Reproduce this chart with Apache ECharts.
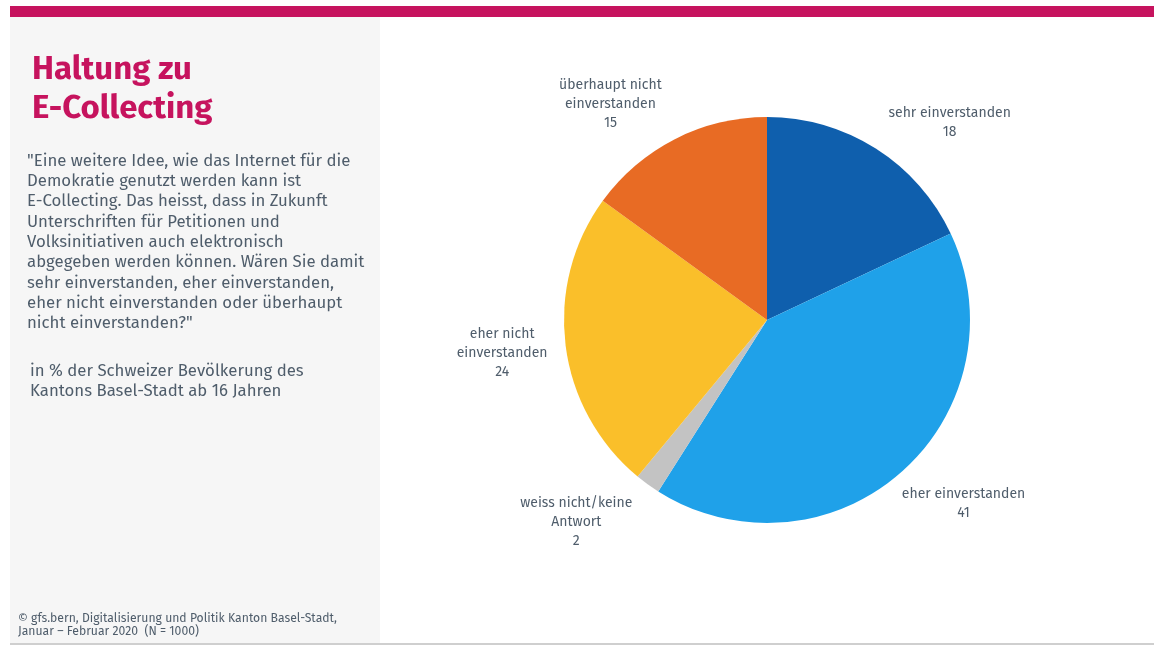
<!DOCTYPE html>
<html>
<head>
<meta charset="utf-8">
<script src="https://cdn.jsdelivr.net/npm/echarts@6/dist/echarts.min.js"></script>
<style>
html,body{margin:0;padding:0;background:#fff;}
#chart{width:1154px;height:646px;}
</style>
</head>
<body>
<div id="chart"></div>
<script>
// ---- data ----
const categories = [
  'sehr einverstanden',
  'eher einverstanden',
  'weiss nicht/keine\nAntwort',
  'eher nicht\neinverstanden',
  'überhaupt nicht\neinverstanden'
];
const values = [18, 41, 2, 24, 15];
const sliceColors = ['#0f5fad', '#1fa1e9', '#c3c3c3', '#fabf2a', '#e86b24'];

const titleLines = ['Haltung zu', 'E-Collecting'];
const questionText = '"Eine weitere Idee, wie das Internet für die\nDemokratie genutzt werden kann ist\nE-Collecting. Das heisst, dass in Zukunft\nUnterschriften für Petitionen und\nVolksinitiativen auch elektronisch\nabgegeben werden können. Wären Sie damit\nsehr einverstanden, eher einverstanden,\neher nicht einverstanden oder überhaupt\nnicht einverstanden?"';
const baseText = 'in % der Schweizer Bevölkerung des\nKantons Basel-Stadt ab 16 Jahren';
const sourceText = '© gfs.bern, Digitalisierung und Politik Kanton Basel-Stadt,\nJanuar – Februar 2020  (N = 1000)';

// label nudges (style: shift of label text from its mid-angle spot)
const labelNudge = [[38, 31], [18, -19], [-32, -16], [3, -1], [-34, 25]];

const FONT = '"Fira Sans", Lato, "Noto Sans", sans-serif';
const TEXT_COLOR = '#4f5d6b';

const seriesData = categories.map((c, i) => ({ name: c, value: values[i], itemStyle: { color: sliceColors[i] } }));

const chart = echarts.init(document.getElementById('chart'), null, { renderer: 'canvas' });
chart.setOption({
  backgroundColor: '#ffffff',
  animation: false,
  graphic: [
    { type: 'rect', left: 10, top: 17, shape: { width: 370, height: 626 }, style: { fill: '#f6f6f6' }, silent: true },
    { type: 'rect', left: 10, top: 6, shape: { width: 1144, height: 11 }, style: { fill: '#c6135e' }, silent: true },
    { type: 'rect', left: 10, top: 643, shape: { width: 1144, height: 2 }, style: { fill: '#cfcfcf' }, silent: true },
    { type: 'text', left: 32, top: 50, style: { text: titleLines.join('\n'), font: 'bold 33px ' + FONT, fill: '#c6135e', lineHeight: 39 } },
    { type: 'text', left: 27, top: 151, style: { text: questionText, font: '16.8px ' + FONT, fill: TEXT_COLOR, lineHeight: 20.3 } },
    { type: 'text', left: 30, top: 361, style: { text: baseText, font: '16.8px ' + FONT, fill: TEXT_COLOR, lineHeight: 20.3 } },
    { type: 'text', left: 18, top: 612, style: { text: sourceText, font: '12.2px ' + FONT, fill: TEXT_COLOR, lineHeight: 13 } }
  ],
  series: [
    {
      type: 'pie',
      center: [767, 320],
      radius: [0, 203],
      startAngle: 90,
      clockwise: true,
      silent: true,
      label: { show: false },
      labelLine: { show: false },
      itemStyle: { borderWidth: 0 },
      data: seriesData
    },
    {
      type: 'pie',
      center: [767, 320],
      radius: [250, 284],
      startAngle: 90,
      clockwise: true,
      silent: true,
      itemStyle: { color: 'rgba(0,0,0,0)', borderWidth: 0 },
      label: {
        show: true,
        position: 'inside',
        formatter: '{b}\n{c}',
        color: TEXT_COLOR,
        fontFamily: FONT,
        fontSize: 14,
        lineHeight: 19,
        align: 'center'
      },
      labelLine: { show: false },
      labelLayout: function (p) {
        const n = labelNudge[p.dataIndex] || [0, 0];
        return { dx: n[0], dy: n[1] };
      },
      data: categories.map((c, i) => ({ name: c, value: values[i] }))
    }
  ]
});
</script>
</body>
</html>
